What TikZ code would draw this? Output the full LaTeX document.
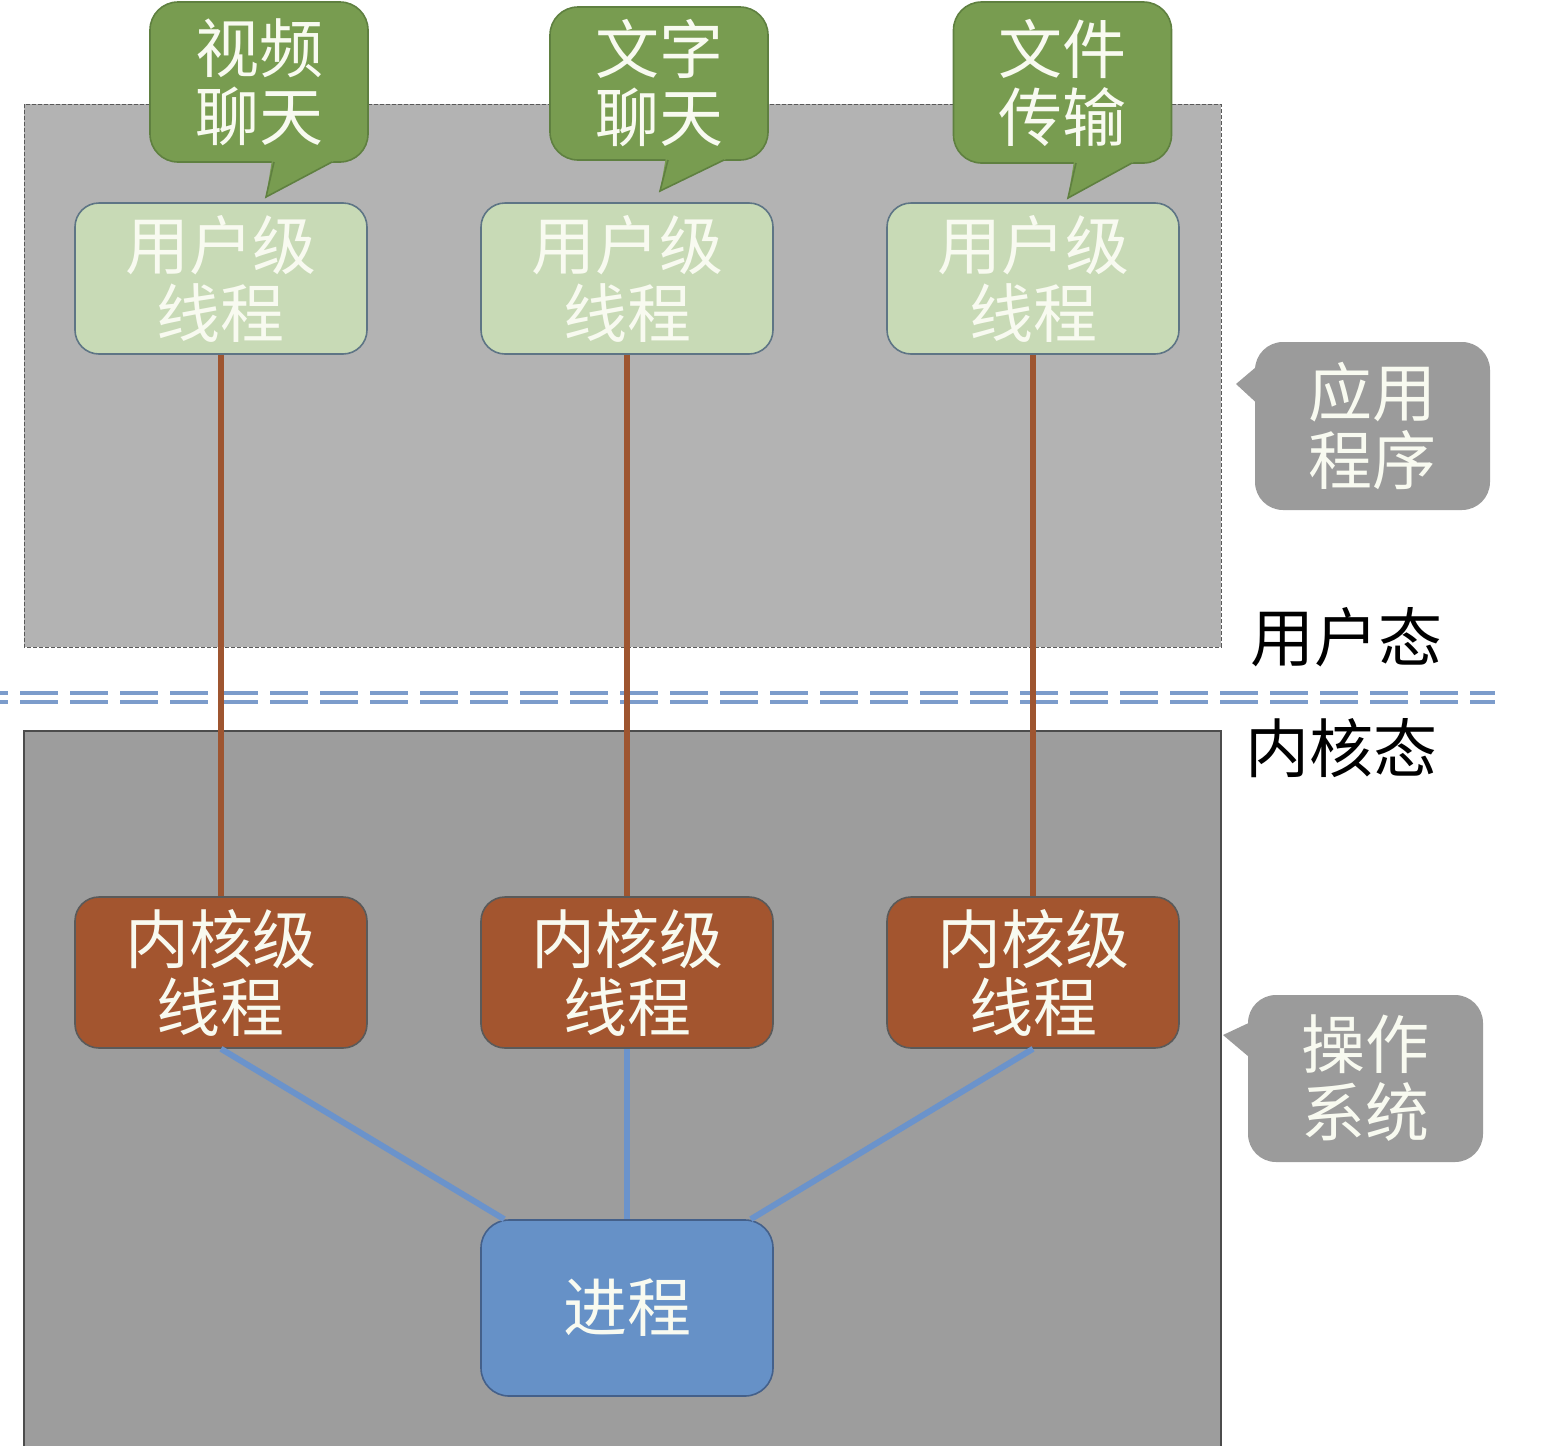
\documentclass[tikz,border=0pt]{standalone}
\usepackage{fontspec}
\newfontfamily\cjk{Noto Sans CJK SC}
\usetikzlibrary{calc}
\definecolor{userbg}{HTML}{B3B3B3}
\definecolor{kernbg}{HTML}{9D9D9D}
\definecolor{greenfill}{HTML}{789C50}
\definecolor{greenline}{HTML}{5F8040}
\definecolor{ufill}{HTML}{C8DAB6}
\definecolor{uline}{HTML}{5E7585}
\definecolor{brownfill}{HTML}{A3552F}
\definecolor{brownline}{HTML}{9E5530}
\definecolor{kline}{HTML}{5A5A5A}
\definecolor{procfill}{HTML}{6691C7}
\definecolor{procline}{HTML}{44608A}
\definecolor{blueline}{HTML}{6B93CB}
\definecolor{dashblue}{HTML}{7C9CCB}
\definecolor{grayfill}{HTML}{9B9B9B}
\definecolor{lighttext}{HTML}{F8FAF0}
\begin{document}
\begin{tikzpicture}[x=0.5pt,y=-0.5pt,
  txt/.style={font=\cjk\fontsize{32}{34}\selectfont, align=center, inner sep=0pt},
  ubox/.style={txt, draw=uline, line width=0.8pt, fill=ufill, text=lighttext, rounded corners=12pt, minimum width=146pt, minimum height=75.5pt},
  kbox/.style={txt, draw=kline, line width=0.8pt, fill=brownfill, text=lighttext, rounded corners=12pt, minimum width=146pt, minimum height=75.5pt},
  pbox/.style={txt, draw=procline, line width=0.8pt, fill=procfill, text=lighttext, rounded corners=14pt, minimum width=146pt, minimum height=88pt},
  gbody/.style={txt, draw=greenline, line width=0.8pt, fill=greenfill, text=lighttext, rounded corners=14pt, minimum width=109pt},
  graybody/.style={txt, fill=grayfill, text=lighttext, rounded corners=14pt, minimum width=117.5pt, minimum height=84pt},
  plain/.style={txt, text=black},
  brownconn/.style={draw=brownline, line width=3pt},
  blueconn/.style={draw=blueline, line width=3pt},
  dashrule/.style={draw=dashblue, line width=2pt, dash pattern=on 19pt off 6pt, dash phase=15pt}
]
\useasboundingbox (0,0) rectangle (1554,1446);
% areas
\fill[userbg] (24,104) rectangle (1221,647);
\draw[draw=gray!70!black, line width=0.5pt, dash pattern=on 2pt off 1pt] (24,104) rectangle (1221,647);
\fill[kernbg] (24,731) rectangle (1221,1446);
\draw[draw=gray!60!black, line width=0.6pt] (24,1446) -- (24,731) -- (1221,731) -- (1221,1446);
% dashed double rule
\coordinate (rl) at (0,693);
\coordinate (rr) at (1495,693);
\coordinate (rl2) at (0,702);
\coordinate (rr2) at (1495,702);
\draw[dashrule] (rl) -- (rr);
\draw[dashrule] (rl2) -- (rr2);
% user level threads
\node[ubox] (u1) at (221,278.5) {用户级\\线程};
\node[ubox] (u2) at (627,278.5) {用户级\\线程};
\node[ubox] (u3) at (1033,278.5) {用户级\\线程};
% kernel level threads
\node[kbox] (k1) at (221,972.5) {内核级\\线程};
\node[kbox] (k2) at (627,972.5) {内核级\\线程};
\node[kbox] (k3) at (1033,972.5) {内核级\\线程};
% process
\node[pbox] (p) at (627,1308) {进程};
% connectors
\draw[brownconn] (u1.south) -- (k1.north);
\draw[brownconn] (u2.south) -- (k2.north);
\draw[brownconn] (u3.south) -- (k3.north);
\coordinate (pl) at ($(p.north west)+(24,0)$);
\coordinate (pr) at ($(p.north east)+(-23,0)$);
\draw[blueconn] (k1.south) -- (pl);
\draw[blueconn] (k2.south) -- (p.north);
\draw[blueconn] (k3.south) -- (pr);
% green callouts
\node[gbody, minimum height=80pt] (g1) at (259,82) {视频\\聊天};
\coordinate (g1t) at (266,197);
\fill[greenfill] (272.6,156) -- (g1t) -- (343.3,156) -- cycle;
\draw[greenline, line width=0.8pt, line join=miter] (274,162) -- (g1t) -- (332,162);
\node[gbody, minimum height=76.5pt] (g2) at (659,83.5) {文字\\聊天};
\coordinate (g2t) at (660,191);
\fill[greenfill] (666.5,154) -- (g2t) -- (736.4,154) -- cycle;
\draw[greenline, line width=0.8pt] (668,160) -- (g2t) -- (724,160);
\node[gbody, minimum height=80.5pt] (g3) at (1062.5,82.5) {文件\\传输};
\coordinate (g3t) at (1068,198);
\fill[greenfill] (1074.6,157) -- (g3t) -- (1143,157) -- cycle;
\draw[greenline, line width=0.8pt] (1076,163) -- (g3t) -- (1132,163);
% gray callouts
\node[graybody] (a1) at (1372.5,426) {应用\\程序};
\coordinate (a1t) at (1236,384);
\fill[grayfill] (1262,362) -- (a1t) -- (1262,408) -- cycle;
\node[graybody, minimum height=83.5pt] (a2) at (1365.5,1078.5) {操作\\系统};
\coordinate (a2t) at (1223,1035);
\fill[grayfill] (1255,1020) -- (a2t) -- (1255,1062) -- cycle;
% state labels
\node[plain] (us) at (1346,637) {用户态};
\node[plain] (ks) at (1341,748) {内核态};
\end{tikzpicture}
\end{document}
